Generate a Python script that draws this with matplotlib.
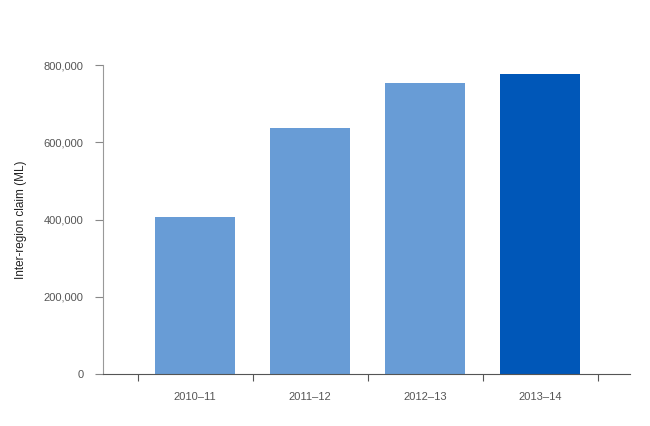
import matplotlib
matplotlib.use("Agg")
from matplotlib import pyplot as plt
from matplotlib.ticker import FuncFormatter

years = ['2010\u201311', '2011\u201312', '2012\u201313', '2013\u201314']
claims = [406000, 637000, 754000, 777000]
colors = ['#689cd6', '#689cd6', '#689cd6', '#0057b8']

plt.rcParams['font.family'] = ['Liberation Sans', 'DejaVu Sans']

fig = plt.figure(figsize=(6.5, 4.26), dpi=100)
ax = fig.add_axes([0.1585, 0.122, 0.8105, 0.7254])

xs = list(range(len(years)))
ax.bar(xs, claims, width=0.7, color=colors)

ax.set_xlim(-0.8, 3.78)
ax.set_ylim(0, 800000)
ax.set_yticks([0, 200000, 400000, 600000, 800000])
ax.yaxis.set_major_formatter(FuncFormatter(lambda v, p: '{:,.0f}'.format(v)))

ax.set_xticks([x - 0.5 for x in range(len(years) + 1)])
ax.set_xticklabels([])
ax.set_xticks(xs, minor=True)
ax.set_xticklabels(years, minor=True)
ax.tick_params(axis='x', which='major', length=5, color='#555555', width=0.8)
ax.tick_params(axis='x', which='minor', length=0, pad=13, labelsize=8, labelcolor='#555555')
ax.tick_params(axis='y', length=6, color='#888888', width=0.8, labelsize=8, labelcolor='#555555', pad=8)

ax.spines['top'].set_visible(False)
ax.spines['right'].set_visible(False)
ax.spines['left'].set_color('#999999')
ax.spines['bottom'].set_color('#555555')

ax.set_ylabel('Inter-region claim (ML)', fontsize=8.5, color='#222222', labelpad=12)

fig.savefig('out.png', dpi=100)
